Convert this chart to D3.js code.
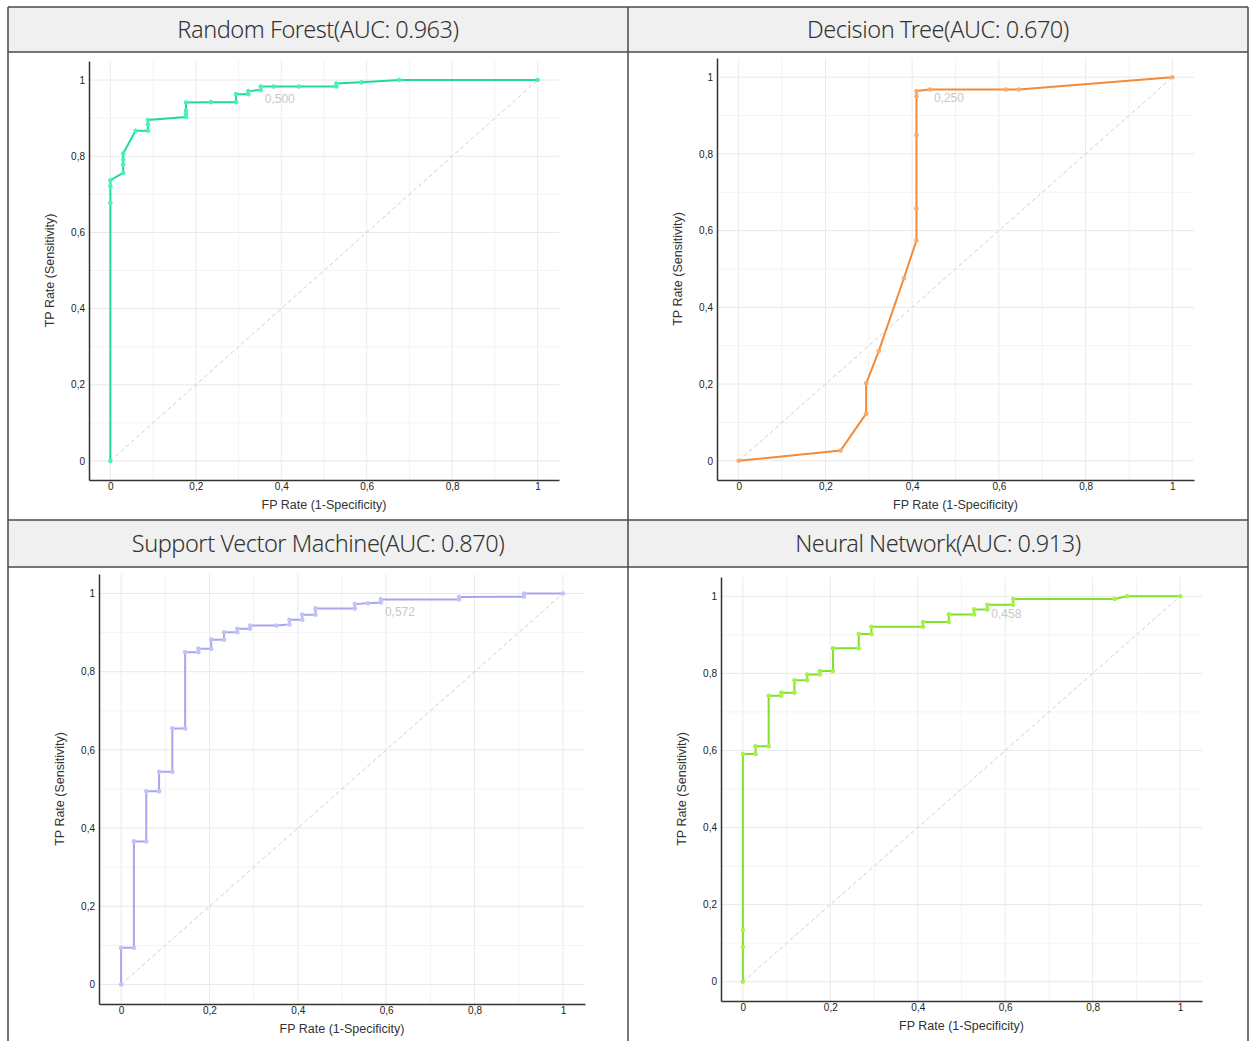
<!DOCTYPE html>
<html>
<head>
<meta charset="utf-8">
<script src="https://cdn.jsdelivr.net/npm/d3@7"></script>
<style>
  body { margin: 0; background: #fff; }
  svg { display: block; }
</style>
</head>
<body>
<svg id="chart" width="1249" height="1041"></svg>
<script>
//============================================================
// Data
//------------------------------------------------------------

var modelNames = ['Random Forest', 'Decision Tree', 'Support Vector Machine', 'Neural Network'];
var aucValues = [0.963, 0.670, 0.870, 0.913];
var thresholdLabels = ['0,500', '0,250', '0,572', '0,458'];
var thresholdIndex = [21, 11, 32, 29];

var rfFpr = [0, 0, 0, 0, 0.03, 0.03, 0.03, 0.03, 0.059, 0.088, 0.088, 0.088, 0.177, 0.177, 0.177, 0.177,
             0.235, 0.294, 0.294, 0.323, 0.323, 0.352, 0.352, 0.382, 0.441, 0.529, 0.529, 0.588, 0.676, 1];
var rfTpr = [0, 0.678, 0.721, 0.737, 0.756, 0.778, 0.791, 0.807, 0.867, 0.867, 0.883, 0.895, 0.903, 0.911, 0.920, 0.941,
             0.942, 0.942, 0.963, 0.963, 0.971, 0.974, 0.983, 0.983, 0.983, 0.983, 0.991, 0.994, 1, 1];

var dtFpr = [0, 0.235, 0.294, 0.294, 0.323, 0.381, 0.410, 0.410, 0.410, 0.410, 0.410, 0.441, 0.616, 0.646, 1];
var dtTpr = [0, 0.027, 0.123, 0.202, 0.286, 0.476, 0.575, 0.658, 0.849, 0.950, 0.964, 0.968, 0.968, 0.968, 1];

var svmFpr = [0, 0, 0.029, 0.029, 0.057, 0.057, 0.086, 0.086, 0.116, 0.116, 0.145, 0.145, 0.175, 0.175, 0.204, 0.204,
              0.233, 0.233, 0.263, 0.263, 0.292, 0.292, 0.352, 0.381, 0.381, 0.410, 0.410, 0.440, 0.440, 0.529, 0.529,
              0.559, 0.588, 0.588, 0.765, 0.765, 0.912, 0.912, 1];
var svmTpr = [0, 0.094, 0.094, 0.366, 0.366, 0.494, 0.494, 0.544, 0.544, 0.655, 0.655, 0.850, 0.850, 0.859, 0.859, 0.882,
              0.882, 0.901, 0.901, 0.910, 0.910, 0.918, 0.918, 0.921, 0.933, 0.933, 0.946, 0.946, 0.962, 0.962, 0.973,
              0.975, 0.977, 0.985, 0.985, 0.991, 0.992, 1, 1];

var nnFpr = [0, 0, 0, 0, 0.029, 0.029, 0.059, 0.059, 0.088, 0.088, 0.118, 0.118, 0.147, 0.147, 0.176, 0.176, 0.206, 0.206,
             0.265, 0.265, 0.294, 0.294, 0.412, 0.412, 0.471, 0.471, 0.529, 0.529, 0.559, 0.559, 0.618, 0.618, 0.850, 0.879, 1];
var nnTpr = [0, 0.090, 0.134, 0.591, 0.591, 0.611, 0.611, 0.742, 0.742, 0.750, 0.750, 0.782, 0.782, 0.797, 0.797, 0.806, 0.806, 0.865,
             0.865, 0.902, 0.902, 0.921, 0.921, 0.933, 0.933, 0.953, 0.953, 0.966, 0.966, 0.978, 0.978, 0.993, 0.993, 1, 1];

var tickValues = [0, 0.2, 0.4, 0.6, 0.8, 1];
var gridValues = [0, 0.1, 0.2, 0.3, 0.4, 0.5, 0.6, 0.7, 0.8, 0.9, 1];

//============================================================
// Layout / styles
//------------------------------------------------------------

var series = [
  { fpr: rfFpr,  tpr: rfTpr,  line: '#22d99b', dot: '#4cf2b2' },
  { fpr: dtFpr,  tpr: dtTpr,  line: '#f28a3a', dot: '#f8ac70' },
  { fpr: svmFpr, tpr: svmTpr, line: '#a6a6ef', dot: '#c3c3fa' },
  { fpr: nnFpr,  tpr: nnTpr,  line: '#80e02c', dot: '#a6f24a' }
];

// cell boxes [x0, y0, x1, y1] and plot rects [left, top, right, bottom]
var headers = [[8, 7, 628, 52], [628, 7, 1248, 52], [8, 520, 628, 567], [628, 520, 1248, 567]];
var plots = [[89, 61, 559, 480], [717, 58, 1194, 480], [99, 574, 585, 1004], [721, 577, 1202, 1001]];

var fmt = function(v) { return d3.format('~g')(v).replace('.', ','); };

var svg = d3.select('#chart');

//------------------------------------------------------------
// Table frame + headers

headers.forEach(function(h, i) {
  svg.append('rect')
      .attr('x', h[0]).attr('y', h[1])
      .attr('width', h[2] - h[0]).attr('height', h[3] - h[1])
      .attr('fill', '#f0f0f0');
  svg.append('text')
      .attr('x', (h[0] + h[2]) / 2)
      .attr('y', (h[1] + h[3]) / 2)
      .attr('dy', '0.35em')
      .attr('text-anchor', 'middle')
      .style('font-family', '"Noto Sans", sans-serif')
      .style('font-weight', 300)
      .style('font-size', '23.5px')
      .style('letter-spacing', '-0.45px')
      .style('fill', '#333')
      .text(modelNames[i] + '(AUC: ' + aucValues[i].toFixed(3) + ')');
});

var frame = svg.append('g')
    .style('stroke', '#4a4a4a')
    .style('stroke-width', 1.5)
    .style('fill', 'none');
[7, 52, 520, 567].forEach(function(y) {
  frame.append('line').attr('x1', 8).attr('x2', 1248).attr('y1', y).attr('y2', y);
});
[8, 628, 1248].forEach(function(x) {
  frame.append('line').attr('x1', x).attr('x2', x).attr('y1', 7).attr('y2', 1041);
});

//------------------------------------------------------------
// ROC panels

series.forEach(function(s, i) {
  var p = plots[i];
  var x = d3.scaleLinear().domain([-0.05, 1.05]).range([p[0], p[2]]);
  var y = d3.scaleLinear().domain([-0.05, 1.05]).range([p[3], p[1]]);
  var g = svg.append('g').attr('class', 'roc-panel');

  // grid
  g.selectAll('line.vgrid').data(gridValues).enter().append('line')
      .attr('class', 'vgrid')
      .attr('x1', function(d) { return x(d); }).attr('x2', function(d) { return x(d); })
      .attr('y1', p[1]).attr('y2', p[3])
      .style('stroke', function(d, j) { return j % 2 ? '#f3f3f3' : '#ebebeb'; });
  g.selectAll('line.hgrid').data(gridValues).enter().append('line')
      .attr('class', 'hgrid')
      .attr('x1', p[0]).attr('x2', p[2])
      .attr('y1', function(d) { return y(d); }).attr('y2', function(d) { return y(d); })
      .style('stroke', function(d, j) { return j % 2 ? '#f3f3f3' : '#e8e8e8'; });

  // axes
  var xAxis = d3.axisBottom(x).tickValues(tickValues).tickSize(0).tickPadding(3).tickFormat(fmt);
  var yAxis = d3.axisLeft(y).tickValues(tickValues).tickSize(0).tickPadding(4).tickFormat(fmt);

  var gx = g.append('g').attr('transform', 'translate(0,' + p[3] + ')').call(xAxis);
  var gy = g.append('g').attr('transform', 'translate(' + p[0] + ',0)').call(yAxis);
  [gx, gy].forEach(function(a) {
    a.select('.domain').style('stroke', '#333').style('stroke-width', 1.5);
    a.selectAll('text')
        .style('font-family', '"Liberation Sans", Arial, sans-serif')
        .style('font-size', '10px')
        .style('fill', '#222');
  });

  g.append('text')
      .attr('x', (p[0] + p[2]) / 2)
      .attr('y', p[3] + 29)
      .attr('text-anchor', 'middle')
      .style('font-family', '"Liberation Sans", Arial, sans-serif')
      .style('font-size', '12.5px')
      .style('fill', '#333')
      .text('FP Rate (1-Specificity)');
  g.append('text')
      .attr('transform', 'translate(' + (p[0] - 35) + ',' + ((p[1] + p[3]) / 2) + ') rotate(-90)')
      .attr('text-anchor', 'middle')
      .style('font-family', '"Liberation Sans", Arial, sans-serif')
      .style('font-size', '12.5px')
      .style('fill', '#333')
      .text('TP Rate (Sensitivity)');

  // chance diagonal
  g.append('line')
      .attr('x1', x(0)).attr('y1', y(0))
      .attr('x2', x(1)).attr('y2', y(1))
      .style('stroke', '#cfcfcf')
      .style('stroke-dasharray', '4,3');

  // roc curve
  var pts = s.fpr.map(function(v, j) { return [v, s.tpr[j]]; });
  g.append('path')
      .datum(pts)
      .attr('d', d3.line()
        .x(function(d) { return x(d[0]); })
        .y(function(d) { return y(d[1]); }))
      .style('fill', 'none')
      .style('stroke', s.line)
      .style('stroke-width', 2);

  g.selectAll('circle.pt').data(pts).enter().append('circle')
      .attr('class', 'pt')
      .attr('cx', function(d) { return x(d[0]); })
      .attr('cy', function(d) { return y(d[1]); })
      .attr('r', 2.3)
      .style('fill', s.dot);

  // threshold label
  var a = pts[thresholdIndex[i]];
  g.append('text')
      .attr('x', x(a[0]) + 4)
      .attr('y', y(a[1]) + 13)
      .style('font-family', '"Liberation Sans", Arial, sans-serif')
      .style('font-size', '12px')
      .style('fill', '#c8c8c8')
      .text(thresholdLabels[i]);
});
</script>
</body>
</html>
